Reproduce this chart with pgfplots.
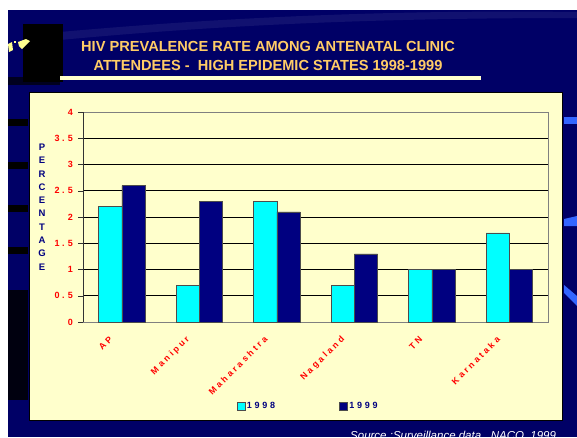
\documentclass[border=0pt]{standalone}
\usepackage{fontspec}
\setmainfont{Liberation Sans}
\newfontfamily\spaced[LetterSpace=30]{Liberation Sans}
\usepackage{pgfplots}
\usepackage{pgfplotstable}
\pgfplotsset{compat=1.18}
\pgfplotsset{boxlegend/.style={legend image code/.code={\draw[##1] (0pt,-4pt) rectangle (8pt,4pt);}}}

\definecolor{slide}{HTML}{000066}
\definecolor{paper}{HTML}{FFFFCC}
\definecolor{titleor}{HTML}{FFCC66}
\definecolor{cyanbar}{HTML}{00FFFF}
\definecolor{navybar}{HTML}{000080}
\definecolor{streak}{HTML}{3366FF}

% prevalence (%), 1998 and 1999
\pgfplotstableread{
x y
0 2.2
1 0.7
2 2.3
3 0.7
4 1.0
5 1.7
}\dataA
\pgfplotstableread{
x y
0 2.6
1 2.3
2 2.1
3 1.3
4 1.0
5 1.0
}\dataB

\begin{document}
\begin{tikzpicture}
\clip (0pt,0pt) rectangle (577pt,-437pt);
% slide background
\fill[white] (0pt,0pt) rectangle (577pt,-437pt);
\fill[slide] (8pt,-10pt) rectangle (577pt,-437pt);
\fill[black!85!slide] (8pt,-290pt) rectangle (28pt,-400pt);
\foreach \yy in {119,162,205,247}
  \fill[black] (8pt,-\yy pt) rectangle (28pt,-\yy pt-7pt);
\fill[slide!80!white, opacity=0.35] (60pt,-32pt) .. controls (250pt,-15pt) and (420pt,-10pt) .. (577pt,-12pt)
  -- (577pt,-18pt) .. controls (420pt,-18pt) and (250pt,-22pt) .. (60pt,-40pt) -- cycle;
\fill[black!70!slide] (8pt,-77pt) rectangle (60pt,-85pt);
% logo block
\fill[black] (23pt,-24pt) rectangle (63pt,-82pt);
\fill[paper!70!yellow] (8pt,-44pt) -- (12pt,-42pt) -- (13pt,-50pt) -- (9pt,-52pt) -- cycle;
\fill[paper!70!yellow] (18pt,-42pt) -- (26pt,-39pt) -- (30pt,-41pt) -- (26pt,-45pt) -- (22pt,-49pt) -- (19pt,-46pt) -- cycle;
\fill[paper!70!yellow] (14pt,-41pt) rectangle (16pt,-43pt);
% right streaks
\fill[streak] (564pt,-117pt) rectangle (577pt,-124pt);
\fill[streak] (564pt,-219pt) -- (577pt,-216pt) -- (577pt,-226pt) -- (564pt,-226pt) -- cycle;
\fill[streak] (564pt,-285pt) -- (577pt,-296pt) -- (577pt,-306pt) -- (564pt,-293pt) -- cycle;
% title
\node[text=titleor, font=\bfseries\fontsize{14.6}{18.5}\selectfont, align=center]
  at (268pt,-56pt) {HIV PREVALENCE RATE AMONG ANTENATAL CLINIC\\ATTENDEES -~ HIGH EPIDEMIC STATES 1998-1999};
\fill[paper] (60pt,-76pt) rectangle (481pt,-80pt);
% chart frame
\filldraw[fill=paper, draw=black, line width=0.8pt] (29pt,-92pt) rectangle (562pt,-420pt);
% y label
\node[text=navybar, font=\bfseries\fontsize{9.5}{13.3}\selectfont, align=center]
  at (42pt,-207pt) {P\\E\\R\\C\\E\\N\\T\\A\\G\\E};
% source
\node[text=white, font=\itshape\fontsize{11.5}{12}\selectfont, anchor=north west, inner sep=0pt]
  at (350pt,-431pt) {Source :Surveillance data , NACO, 1999};

\begin{axis}[
  at={(83pt,-322pt)}, anchor=south west,
  scale only axis, width=465pt, height=210pt,
  xmin=-0.5, xmax=5.5, ymin=0, ymax=4,
  ybar=0pt, bar width=0.3,
  axis line style={draw=gray},
  tick align=outside, tick pos=left,
  major tick length=5pt,
  xtick={0,...,5},
  xticklabels={AP,Manipur,Maharashtra,Nagaland,TN,Karnataka},
  x tick style={draw=none},
  extra x ticks={-0.5,0.5,1.5,2.5,3.5,4.5,5.5},
  extra x tick labels={},
  extra x tick style={grid=none, tick style={draw=black!80}},
  xticklabel style={rotate=45, anchor=east, text=red,
    font=\spaced\bfseries\fontsize{8.8}{10}\selectfont, xshift=-12pt, yshift=0pt},
  ytick={0,0.5,...,4},
  yticklabels={0,0 . 5,1,1 . 5,2,2 . 5,3,3 . 5,4},
  yticklabel style={text=red, font=\bfseries\fontsize{9}{10}\selectfont, xshift=-1.5pt},
  y tick style={draw=black!80},
  ymajorgrids, grid style={black, line width=0.6pt},
  legend style={at={(0.484,-0.4)}, anchor=center, draw=none, fill=none,
    legend columns=2, font=\spaced\bfseries\fontsize{9}{10}\selectfont, text=navybar,
    /tikz/every even column/.append style={column sep=62pt}},
]
\addplot[fill=cyanbar, draw=black!70, boxlegend] table[x=x,y=y] {\dataA};
\addplot[fill=navybar, draw=black!70, boxlegend] table[x=x,y=y] {\dataB};
\legend{1998,1999}
\draw[black!80] (rel axis cs:0,0) -- (rel axis cs:0,1);
\end{axis}
\end{tikzpicture}
\end{document}
